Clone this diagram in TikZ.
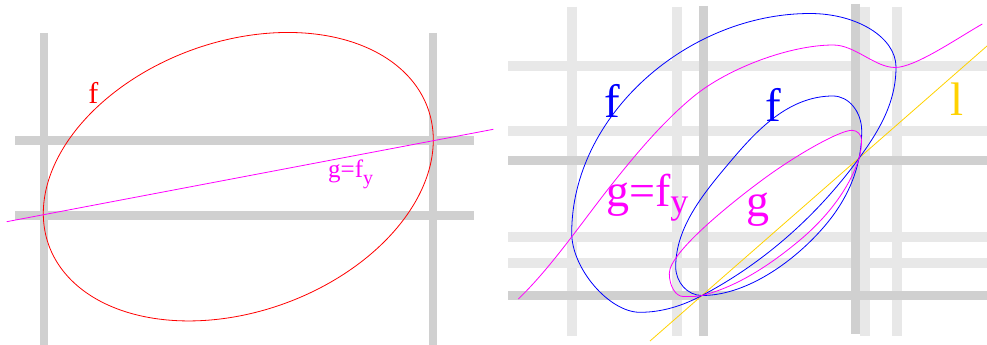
\documentclass[tikz,border=0pt]{standalone}
\usepackage{fontspec}
\setmainfont{Liberation Serif}
\definecolor{gdark}{RGB}{208,208,208}
\definecolor{glight}{RGB}{232,232,232}
\definecolor{gold}{RGB}{255,210,0}
\definecolor{mag}{RGB}{255,0,255}
\definecolor{fred}{RGB}{255,0,0}
\definecolor{fblue}{RGB}{0,0,255}
\begin{document}
\begin{tikzpicture}[x=1pt,y=-1pt,
  darkbar/.style={draw=gdark,line width=8.5pt},
  lightbar/.style={draw=glight,line width=10pt},
  curve/.style={line width=0.8pt},
  lab/.style={inner sep=0pt,anchor=base,font=\fontsize{#1}{#1}\selectfont},
]
\useasboundingbox (0,0) rectangle (987,345);
% ---------------- left panel ----------------
\draw[darkbar,line width=8pt] (44,33) -- (44,345);
\draw[darkbar,line width=8pt] (432.7,33) -- (432.7,345);
\draw[darkbar,line width=9.3pt] (15,140.7) -- (473.7,140.7);
\draw[darkbar,line width=9.3pt] (15,215.3) -- (473.7,215.3);
\draw[curve,fred] plot[domain=0:360,samples=180,smooth cycle,variable=\t]
  ({238.3+195*cos(\t)},{176.7-36.7*cos(\t)-139.5*sin(\t)});
\coordinate (La) at (6.7,221.7);
\coordinate (Lb) at (493.3,129.3);
\draw[curve,mag] (La) -- (Lb);
\node[lab=30,fred] (fL) at (93.3,103.3) {f};
\node[lab=25,mag,anchor=base west] (gL) at (328,177.7)
  {g=f\raisebox{-7pt}{\fontsize{20}{20}\selectfont y}};
% ---------------- right panel ----------------
\foreach \xx in {572,676.5,865,896.7} \draw[lightbar] (\xx,6.7) -- (\xx,335.7);
\foreach \yy in {66,131.3,236.7,263.3} \draw[lightbar] (508,\yy) -- (987,\yy);
\draw[darkbar] (703.3,6) -- (703.3,335.7);
\draw[darkbar] (855.7,4) -- (855.7,333.5);
\foreach \yy in {160.3,295.7} \draw[darkbar,line width=9.5pt] (508,\yy) -- (987,\yy);
\coordinate (P1) at (702,295.5);
\coordinate (P2) at (859,158.3);
\coordinate (la) at (650,341);
\coordinate (lb) at (987,46);
\draw[curve,gold] (la) -- (lb);
% outer f oval
\coordinate (oL) at (571.7,233);
\coordinate (oT) at (810,13.5);
\coordinate (oR) at (896,67);
\coordinate (oB) at (640,312.3);
\draw[curve,fblue] (oL) .. controls (571.7,115) and (688,13.5) .. (oT)
  .. controls (857,13.5) and (896,37.5) .. (oR)
  .. controls (896,102) and (879.7,129.9) .. (P2)
  .. controls (817.7,215) and (764,262.9) .. (P1)
  .. controls (682.5,305.8) and (662,312.3) .. (oB)
  .. controls (609.3,312.3) and (571.7,268.7) .. (oL) -- cycle;
% inner f oval
\coordinate (iL) at (675.7,266.7);
\coordinate (iM) at (730,162);
\coordinate (iT) at (833,96);
\coordinate (iR) at (861.7,131);
\coordinate (iW) at (811.7,240);
\draw[curve,fblue] (P1) .. controls (687.5,295.5) and (675.7,282.5) .. (iL)
  .. controls (675.7,226.7) and (704.2,192.6) .. (iM)
  .. controls (755.8,131.4) and (788,96) .. (iT)
  .. controls (848.8,96) and (861.7,111.8) .. (iR)
  .. controls (861.7,140) and (860.8,149.5) .. (P2)
  .. controls (851,197.5) and (827.3,224.4) .. (iW)
  .. controls (783.4,268.3) and (742,295.5) .. (P1) -- cycle;
% inner g oval
\coordinate (gQ) at (800,240);
\coordinate (gR) at (861.5,140);
\coordinate (gT) at (852,130.3);
\coordinate (gN) at (766.7,176.7);
\coordinate (gL2) at (669.3,273.3);
\coordinate (gB) at (683.3,296.5);
\draw[curve,mag] (P1) .. controls (737.9,286.6) and (771.6,263.8) .. (gQ)
  .. controls (825.3,218.8) and (849.1,189.8) .. (P2)
  .. controls (860.8,152.6) and (861.5,146) .. (gR)
  .. controls (861.5,134.7) and (857.2,130.3) .. (gT)
  .. controls (840,130.3) and (799.1,153.3) .. (gN)
  .. controls (738.4,197.2) and (669.3,251.3) .. (gL2)
  .. controls (669.3,286) and (675.6,296.5) .. (gB)
  .. controls (689.5,296.5) and (696.2,296.9) .. (P1) -- cycle;
% g = f_y open curve
\coordinate (yS) at (518.3,299);
\coordinate (yA) at (610,186.7);
\coordinate (yB) at (693.3,96.7);
\coordinate (yT) at (833.3,45);
\coordinate (yD) at (895,67.5);
\coordinate (yE) at (982.3,24);
\draw[curve,mag] (yS) .. controls (550.7,268) and (582.1,222) .. (yA)
  .. controls (634.8,155.3) and (662.5,122.1) .. (yB)
  .. controls (728,68.1) and (790,45) .. (yT)
  .. controls (855,45) and (875,67.5) .. (yD)
  .. controls (915,67.5) and (956.2,38.9) .. (yE);
\node[lab=47,fblue] (fR1) at (612.5,117.3) {f};
\node[lab=47,fblue] (fR2) at (773,121.7) {f};
\node[lab=46,mag,anchor=base west] (gR1) at (606,206.7)
  {g=f\raisebox{-7pt}{\fontsize{36}{36}\selectfont y}};
\node[lab=46,mag] (gR2) at (758,216) {g};
\node[lab=47,gold] (lR) at (956.7,115) {l};
\end{tikzpicture}
\end{document}
